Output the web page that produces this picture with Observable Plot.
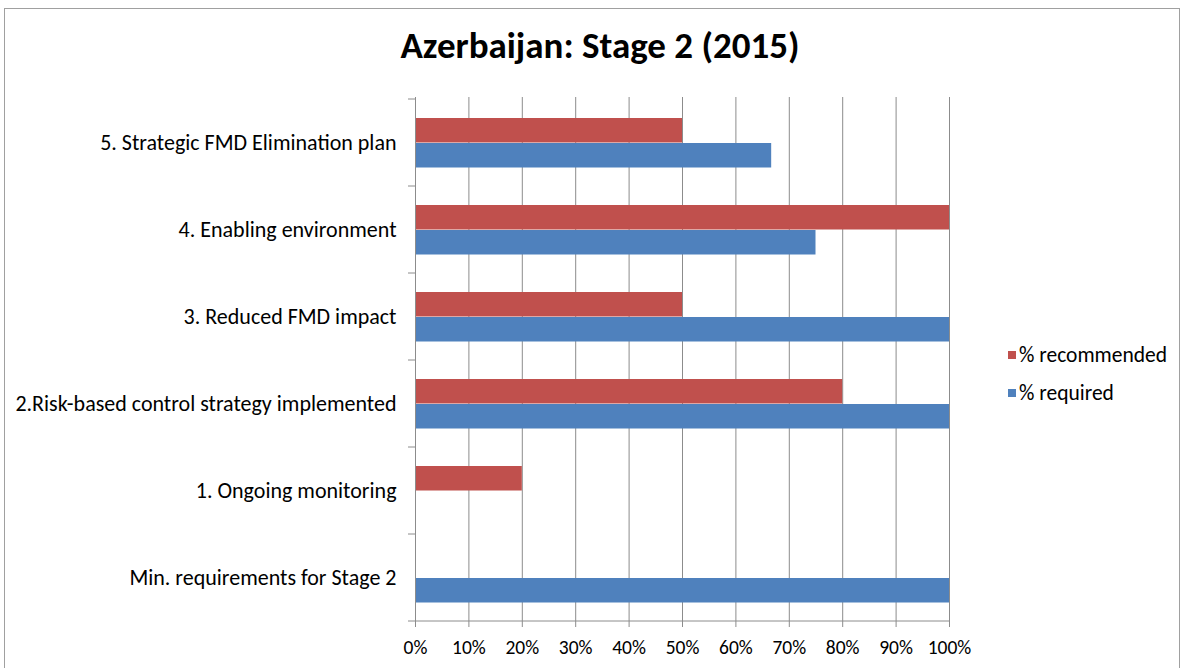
<!DOCTYPE html>
<html>
<head>
<meta charset="utf-8">
<script src="https://cdn.jsdelivr.net/npm/d3@7"></script>
<script src="https://cdn.jsdelivr.net/npm/@observablehq/plot@0.6"></script>
<style>
  html, body { margin: 0; padding: 0; background: #fff; }
  #wrap { position: relative; width: 1184px; height: 668px; overflow: hidden; font-family: Carlito, Calibri, Lato, sans-serif; }
  #frame { position: absolute; left: 4px; top: 8px; width: 1176px; height: 700px; border: 1px solid #a0a0a0; box-sizing: border-box; }
  #title { position: absolute; left: 0; width: 1200px; top: 27px; line-height: 1; text-align: center; font-size: 37px; font-weight: bold; color: #000; }
  #chart { position: absolute; left: 0; top: 0; }
  #legend { position: absolute; left: 1008px; top: 0; font-size: 21.5px; color: #000; }
  #legend div { position: absolute; left: 0; display: flex; align-items: center; height: 22px; white-space: nowrap; }
  #legend span.sw { display: inline-block; width: 8px; height: 8px; margin-right: 3px; }
</style>
</head>
<body>
<div id="wrap">
  <div id="frame"></div>
  <div id="chart"></div>
  <div id="title">Azerbaijan: Stage 2 (2015)</div>
  <div id="legend"></div>
</div>
<script>
const categories = [
  "5. Strategic FMD Elimination plan",
  "4. Enabling environment",
  "3. Reduced FMD impact",
  "2.Risk-based control strategy implemented",
  "1. Ongoing monitoring",
  "Min. requirements for Stage 2"
];
const seriesNames = ["% recommended", "% required"];
const recommended = [0.50, 1.00, 0.50, 0.80, 0.20, 0];
const required = [0.667, 0.75, 1.00, 1.00, 0, 1.00];
const xTicks = [0, 0.1, 0.2, 0.3, 0.4, 0.5, 0.6, 0.7, 0.8, 0.9, 1.0];
const colors = ["#C0504D", "#4F81BD"];

const rows = [];
categories.forEach((c, i) => {
  rows.push({category: c, series: seriesNames[0], value: recommended[i]});
  rows.push({category: c, series: seriesNames[1], value: required[i]});
});

const font = "Carlito, Calibri, Lato, sans-serif";
const plot = Plot.plot({
  width: 1184,
  height: 668,
  marginLeft: 415,
  marginRight: 235,
  marginTop: 97,
  marginBottom: 46,
  style: {fontFamily: font, fontSize: "20px", color: "#000", background: "transparent", overflow: "visible"},
  x: {domain: [0, 1], ticks: xTicks, tickFormat: d3.format(".0%"), label: null},
  y: {domain: categories, padding: 0, label: null},
  marks: [
    Plot.ruleX(xTicks.slice(1), {stroke: "#8c8c8c", strokeWidth: 1}),
    Plot.barX(rows.filter(d => d.series === seriesNames[0]), {y: "category", x: "value", fill: colors[0], insetTop: 19, insetBottom: 43.5}),
    Plot.barX(rows.filter(d => d.series === seriesNames[1]), {y: "category", x: "value", fill: colors[1], insetTop: 44, insetBottom: 18.5}),
    Plot.ruleX([0], {stroke: "#8c8c8c"}),
    Plot.axisX({anchor: "bottom", ticks: xTicks, tickFormat: d3.format(".0%"), tickSize: 5, tickPadding: 13, stroke: "#8c8c8c", fill: "#000", fontSize: 19.5}),
    Plot.axisY({anchor: "left", tickSize: 0, tickPadding: 19, fill: "#000", fontSize: 22})
  ]
});
document.getElementById("chart").appendChild(plot);

// Category boundary ticks and bottom axis line, positioned via Plot's scales
const ys = plot.scale("y");
const xs = plot.scale("x");
const svg = d3.select(plot);
const x0 = xs.apply(0), x1 = xs.apply(1);
const bounds = categories.map(c => ys.apply(c)).concat([ys.apply(categories[categories.length - 1]) + ys.bandwidth]);
const g = svg.append("g").attr("stroke", "#8c8c8c");
bounds.forEach(yv => {
  g.append("line").attr("x1", x0 - 7).attr("x2", x0).attr("y1", yv).attr("y2", yv);
});
g.append("line").attr("x1", x0).attr("x2", x1).attr("y1", bounds[bounds.length - 1]).attr("y2", bounds[bounds.length - 1]);

const legend = document.getElementById("legend");
const legendTops = [344, 382];
seriesNames.forEach((s, i) => {
  const d = document.createElement("div");
  d.style.top = legendTops[i] + "px";
  d.innerHTML = `<span class="sw" style="background:${colors[i]}"></span>${s}`;
  legend.appendChild(d);
});
</script>
</body>
</html>
